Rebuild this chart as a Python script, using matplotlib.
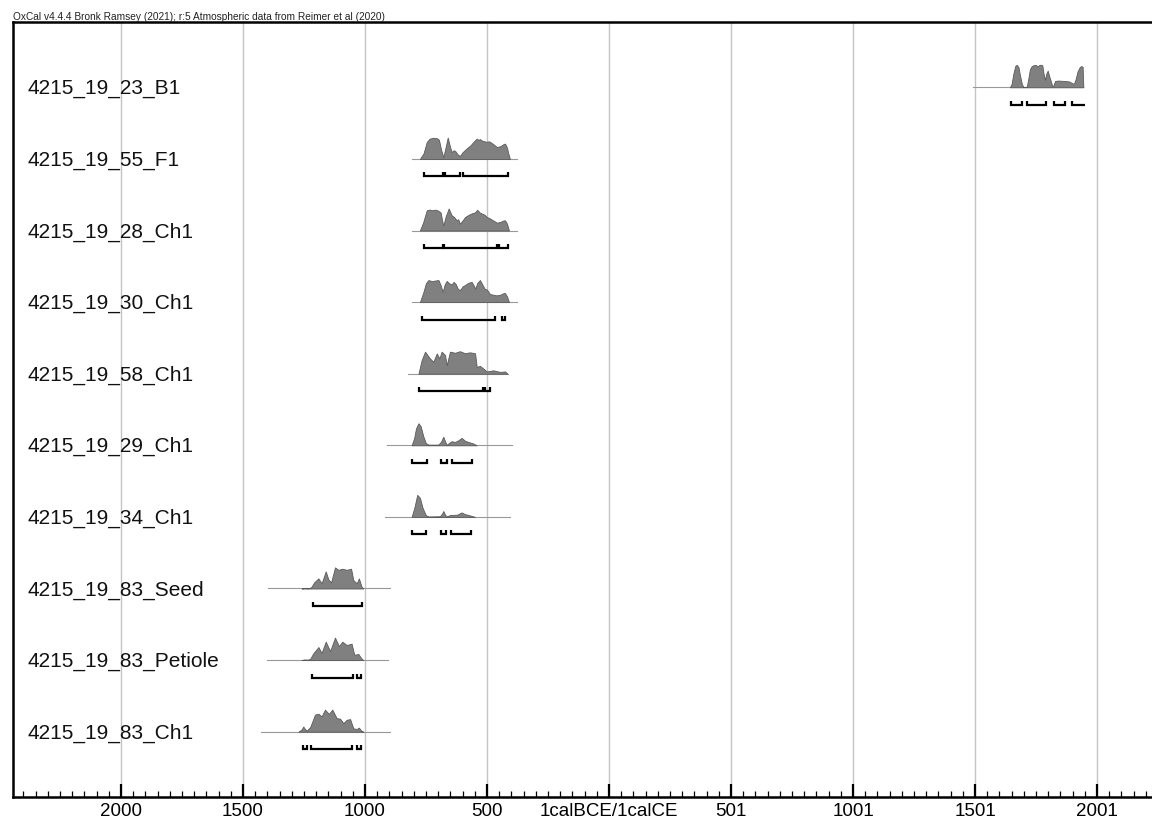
import matplotlib
matplotlib.use("Agg")
import matplotlib.pyplot as plt
from matplotlib.ticker import FixedLocator, MultipleLocator

plt.rcParams['font.family'] = ['Liberation Sans', 'DejaVu Sans']

# ---------------- data ----------------
sample_names = ["4215_19_23_B1", "4215_19_55_F1", "4215_19_28_Ch1", "4215_19_30_Ch1",
                "4215_19_58_Ch1", "4215_19_29_Ch1", "4215_19_34_Ch1", "4215_19_83_Seed",
                "4215_19_83_Petiole", "4215_19_83_Ch1"]

# calendar years (negative = BCE), relative probability
b1_years = [1643, 1650, 1657, 1665, 1671, 1678, 1684, 1692, 1698, 1712, 1718, 1725, 1732, 1740, 1746,
            1752, 1757, 1762, 1766, 1772, 1776, 1781, 1787, 1792, 1798, 1804, 1811, 1817, 1822, 1828,
            1840, 1855, 1870, 1885, 1896, 1905, 1912, 1920, 1928, 1934, 1941, 1944]
b1_prob = [0, 0.15, 0.6, 0.95, 1.0, 0.9, 0.55, 0.15, 0.02, 0.02, 0.35, 0.8, 0.94, 0.98, 1.0,
           0.97, 0.93, 0.98, 1.0, 1.0, 0.97, 0.6, 0.33, 0.6, 0.74, 0.5, 0.26, 0.05, 0.1, 0.28,
           0.3, 0.29, 0.28, 0.26, 0.2, 0.15, 0.35, 0.7, 0.88, 0.94, 0.92, 0]

f1_years = [-775, -760, -747, -735, -720, -705, -697, -688, -679, -670, -661, -653, -645, -638, -631,
            -620, -611, -600, -590, -580, -570, -560, -550, -542, -535, -528, -522, -515, -504, -491,
            -480, -470, -460, -450, -440, -432, -426, -418, -413, -406]
f1_prob = [0, 0.25, 0.75, 0.9, 0.94, 0.92, 0.85, 0.4, 0.08, 0.5, 0.95, 0.6, 0.3, 0.38, 0.36,
           0.2, 0.13, 0.3, 0.4, 0.5, 0.58, 0.7, 0.82, 0.9, 0.85, 0.88, 0.82, 0.8, 0.76, 0.78,
           0.7, 0.62, 0.53, 0.55, 0.6, 0.66, 0.68, 0.5, 0.25, 0]

c28_years = [-775, -762, -747, -735, -725, -712, -700, -690, -684, -679, -670, -657, -650, -645, -635,
             -624, -618, -611, -600, -590, -575, -563, -550, -540, -530, -522, -510, -501, -490, -475,
             -460, -445, -432, -426, -418, -410]
c28_prob = [0, 0.35, 0.9, 0.93, 0.9, 0.93, 0.88, 0.8, 0.45, 0.22, 0.6, 0.98, 0.8, 0.68, 0.6,
            0.45, 0.5, 0.3, 0.45, 0.6, 0.7, 0.76, 0.8, 0.92, 0.8, 0.76, 0.7, 0.6, 0.55, 0.45,
            0.35, 0.38, 0.45, 0.45, 0.3, 0]

c30_years = [-775, -762, -750, -740, -725, -712, -699, -690, -682, -673, -665, -657, -645, -637, -628,
             -620, -611, -600, -590, -578, -563, -555, -548, -540, -529, -520, -510, -500, -488, -475,
             -460, -445, -432, -426, -418, -410]
c30_prob = [0, 0.4, 0.85, 0.98, 0.93, 0.96, 0.98, 0.75, 0.45, 0.8, 0.94, 0.85, 0.78, 0.9, 0.8,
            0.6, 0.53, 0.7, 0.76, 0.85, 0.9, 0.75, 0.6, 0.85, 0.98, 0.8, 0.6, 0.55, 0.36, 0.33,
            0.3, 0.33, 0.4, 0.4, 0.25, 0]

c58_years = [-781, -768, -754, -734, -720, -706, -695, -686, -672, -665, -652, -631, -611, -590, -570,
             -549, -542, -529, -515, -501, -474, -447, -426, -416]
c58_prob = [0, 0.6, 0.98, 0.68, 0.53, 0.9, 0.68, 0.98, 0.83, 0.38, 0.98, 0.93, 1.0, 0.91, 0.95,
            0.91, 0.3, 0.35, 0.23, 0.1, 0.15, 0.08, 0.1, 0]

c29_years = [-809, -799, -791, -781, -772, -761, -751, -740, -700, -689, -679, -671, -665, -654, -645,
             -631, -618, -604, -590, -577, -556, -542]
c29_prob = [0, 0.3, 0.75, 0.98, 0.85, 0.4, 0.1, 0.03, 0.03, 0.15, 0.38, 0.15, 0.02, 0.12, 0.18,
            0.15, 0.22, 0.33, 0.2, 0.15, 0.08, 0]

c34_years = [-809, -798, -786, -775, -764, -751, -740, -693, -684, -679, -672, -665, -652, -638, -622,
             -604, -590, -577, -549]
c34_prob = [0, 0.4, 0.98, 0.85, 0.4, 0.08, 0.02, 0.03, 0.15, 0.26, 0.1, 0.02, 0.08, 0.09, 0.1,
            0.2, 0.12, 0.09, 0]

seed_years = [-1260, -1249, -1232, -1221, -1208, -1191, -1178, -1161, -1150, -1139, -1123, -1109, -1093,
              -1075, -1057, -1048, -1034, -1025, -1014, -1007]
seed_prob = [0, 0.02, 0.01, 0.05, 0.28, 0.45, 0.23, 0.76, 0.4, 0.27, 0.94, 0.83, 0.88,
             0.83, 0.88, 0.38, 0.23, 0.45, 0.08, 0]

pet_years = [-1260, -1249, -1235, -1225, -1212, -1191, -1178, -1161, -1143, -1123, -1107, -1093, -1075,
             -1055, -1044, -1027, -1016, -1007]
pet_prob = [0, 0.03, 0.02, 0.05, 0.3, 0.58, 0.32, 0.82, 0.4, 1.0, 0.62, 0.82, 0.67,
            0.73, 0.24, 0.27, 0.09, 0]

ch1_years = [-1273, -1260, -1253, -1246, -1239, -1225, -1205, -1191, -1178, -1164, -1148, -1134, -1116,
             -1102, -1089, -1075, -1061, -1048, -1034, -1025, -1014, -1007]
ch1_prob = [0, 0.1, 0.23, 0.12, 0.05, 0.2, 0.76, 0.8, 0.68, 0.98, 0.79, 0.98, 0.6,
            0.58, 0.38, 0.53, 0.56, 0.15, 0.12, 0.18, 0.03, 0]

# extent of the thin baseline (unmodelled range) for each sample
line_starts = [1492, -809, -809, -809, -822, -911, -918, -1396, -1403, -1426]
line_ends = [1944, -377, -377, -377, -413, -399, -406, -898, -905, -898]

# 95.4% ranges
ranges = [
    [(1648, 1691), (1713, 1791), (1824, 1869), (1898, 1950)],
    [(-758, -682), (-672, -611), (-597, -413)],
    [(-758, -680), (-676, -461), (-450, -414)],
    [(-768, -467), (-440, -426)],
    [(-777, -515), (-508, -488)],
    [(-809, -747), (-690, -665), (-645, -563)],
    [(-809, -751), (-688, -667), (-649, -567)],
    [(-1212, -1014)],
    [(-1216, -1048), (-1034, -1016)],
    [(-1253, -1239), (-1221, -1055), (-1034, -1016)],
]
open_right = [[False, False, False, True]] + [[False] * len(r) for r in ranges[1:]]

tick_positions = [-2000, -1500, -1000, -500, 0, 500, 1000, 1500, 2000]
tick_labels = ["2000", "1500", "1000", "500", "1calBCE/1calCE", "501", "1001", "1501", "2001"]

header = "OxCal v4.4.4 Bronk Ramsey (2021); r:5 Atmospheric data from Reimer et al (2020)"

dist_years = [b1_years, f1_years, c28_years, c30_years, c58_years, c29_years, c34_years,
              seed_years, pet_years, ch1_years]
dist_probs = [b1_prob, f1_prob, c28_prob, c30_prob, c58_prob, c29_prob, c34_prob,
              seed_prob, pet_prob, ch1_prob]

# ---------------- layout ----------------
W, H = 1152, 818
fig = plt.figure(figsize=(W / 100, H / 100), dpi=100)
left_px, top_px, bottom_px = 13, 22, 797
ax = fig.add_axes([left_px / W, 1 - bottom_px / H, 1 - left_px / W + 0.01, (bottom_px - top_px) / H])

px_per_year = 0.244
zero_px = 609
x_left = (left_px - zero_px) / px_per_year
x_right = (W + 0.01 * W - zero_px) / px_per_year
ax.set_xlim(x_left, x_right)
ax.set_ylim(bottom_px, top_px)  # y in pixel rows from top

first_base, row_step = 87.3, 71.6
peak_h = 22.5
bracket_off, bracket_tick = 17.5, 4.0

for i, name in enumerate(sample_names):
    base = first_base + i * row_step
    ax.plot([line_starts[i], line_ends[i]], [base, base], color="#999999", lw=0.8, zorder=2)
    ys = [base - p * peak_h for p in dist_probs[i]]
    ax.fill_between(dist_years[i], base, ys, facecolor="#808080", edgecolor="#5a5a5a",
                    lw=0.6, zorder=3)
    by = base + bracket_off
    for (a, b), op in zip(ranges[i], open_right[i]):
        xs = [a, a, b] if op else [a, a, b, b]
        yy = [by - bracket_tick, by, by] if op else [by - bracket_tick, by, by, by - bracket_tick]
        ax.plot(xs, yy, color="black", lw=1.6, solid_capstyle="butt", solid_joinstyle="miter", zorder=4)
    ax.annotate(name, xy=(27, base + 1.5), xycoords=("figure pixels", "data"),
                fontsize=15, va="center", ha="left", color="#111111")

# grid
for t in tick_positions:
    ax.axvline(t, color="#c4c4c4", lw=1.0, zorder=1)

ax.xaxis.set_major_locator(FixedLocator(tick_positions))
ax.set_xticklabels(tick_labels)
ax.xaxis.set_minor_locator(MultipleLocator(50))
ax.tick_params(axis="x", which="major", direction="in", length=9.5, width=1.6,
               labelsize=13.5, pad=4.5, top=False)
ax.tick_params(axis="x", which="minor", direction="in", length=4.3, width=0.9, top=False)
ax.set_yticks([])
for s in ["left", "top", "bottom"]:
    ax.spines[s].set_linewidth(1.8)
ax.spines["right"].set_visible(False)

fig.text(left_px / W, 1 - 16.5 / H, header, fontsize=7.3, va="center", ha="left", color="#222222")

fig.savefig("out.png", dpi=100)
